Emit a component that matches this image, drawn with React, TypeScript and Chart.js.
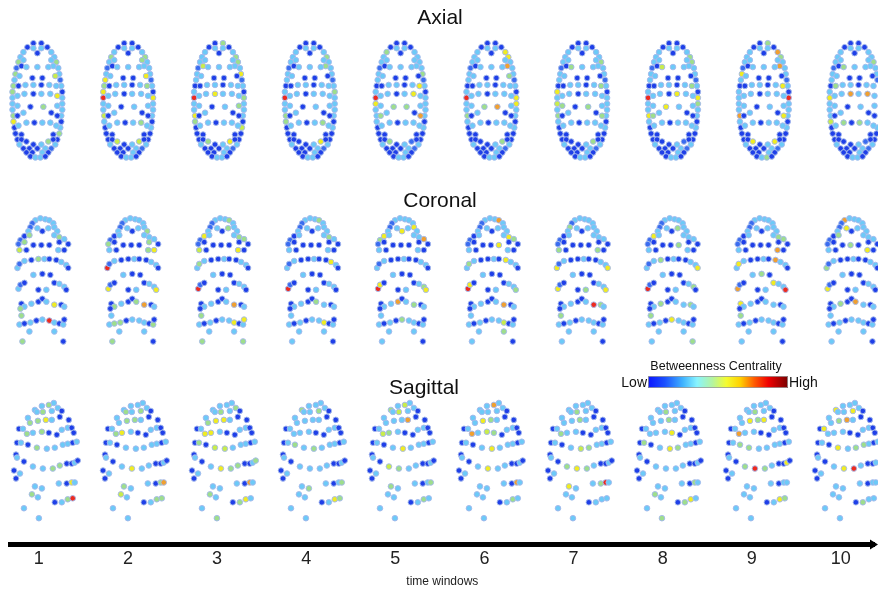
import React, { useEffect, useRef } from "react";
import { Chart, registerables } from "chart.js";

Chart.register(...registerables);

// ---------- text ----------
const WINDOWS = [1, 2, 3, 4, 5, 6, 7, 8, 9, 10];
const TICK_LABELS = ["1", "2", "3", "4", "5", "6", "7", "8", "9", "10"];
const VIEW_TITLES = ["Axial", "Coronal", "Sagittal"];
const AXIS_TITLE = "time windows";
const COLORBAR_TITLE = "Betweenness Centrality";
const COLORBAR_LOW = "Low";
const COLORBAR_HIGH = "High";

// ---------- electrode layouts (layout units, relative to head centre) ----------
const AXIAL_XY = [
  [-4, -57], [4, -57], [-10, -53], [-4, -52], [4, -52], [10, -53], [-14, -48], [0, -47], [14, -48],
  [-17, -43], [-19, -38], [-21, -32], [-22, -26], [-23, -20], [-24, -14], [-25, -8], [-25, -2], [-25, 4],
  [-25, 10], [-24, 16], [-24, 22], [-23, 28], [-22, 34], [-20, 40],
  [17, -43], [19, -38], [21, -32], [22, -26], [23, -20], [24, -14], [25, -8], [25, -2], [25, 4],
  [25, 10], [24, 16], [24, 22], [23, 28], [22, 34], [20, 40],
  [-14, -40], [-16, -34], [-18, -24], [-19, -14], [-20, -4], [-20, 6], [-20, 16], [-19, 26], [-16, 35],
  [14, -40], [16, -34], [18, -24], [19, -14], [20, -4], [20, 6], [20, 16], [19, 26], [16, 35],
  [-11, -33], [0, -33], [11, -33], [-5, -22], [5, -22], [-12, -15], [-4, -15], [4, -15], [12, -15],
  [-13, -6], [-4, -6], [4, -6], [13, -6], [-7, 7], [6, 7], [-14, 13], [14, 13], [-11, 23], [-3, 23],
  [5, 23], [13, 23],
  [-16, 40], [-11, 42], [11, 42], [16, 40], [-18, 45], [18, 45], [-4, 45], [4, 45], [-14, 49], [-8, 49],
  [0, 49], [8, 49], [14, 49], [-11, 53], [-5, 53], [5, 53], [11, 53], [-7, 57], [-2, 58], [3, 58], [8, 57],
];

const CORONAL_XY = [
  [-7, -61], [-2, -63], [3, -62], [7, -61], [-10, -58], [11, -58], [-12, -54], [12, -54], [-5, -53],
  [6, -53], [0, -50], [-14, -50], [15, -50],
  [-22, -41], [-18, -45], [-13, -46], [12, -46], [17, -44], [22, -42], [-24, -37], [26, -37], [-18, -39], [17, -39],
  [-23, -31], [-16, -31], [-9, -36], [-1, -36], [7, -36], [16, -31], [22, -31],
  [-25, -13], [-23, -17], [-18, -20], [-11, -21], [-4, -22], [2, -22], [7, -22], [14, -21], [19, -19],
  [24, -16], [26, -13],
  [-9, -6], [0, -7], [8, -6],
  [-24, 8], [-22, 4], [-18, 2], [12, 2], [17, 3], [22, 6], [24, 9], [-4, 9], [4, 9],
  [-21, 23], [-18, 26], [-11, 23], [-4, 21], [0, 18], [4, 21], [12, 24], [19, 24], [22, 26], [-22, 28],
  [-21, 35], [-23, 44], [-18, 43], [-12, 42], [-6, 40], [0, 39], [7, 40], [12, 42], [17, 43], [21, 44],
  [22, 39], [-13, 51], [12, 51], [-20, 61], [21, 61],
];

const SAGITTAL_XY = [
  [-3, -55], [4, -56], [9, -58], [13, -53], [-10, -51], [-8, -49], [-2, -49], [7, -50], [17, -50],
  [-17, -43], [15, -44], [24, -41], [-15, -38], [-7, -40], [1, -41], [7, -41],
  [-26, -32], [-22, -32], [-18, -27], [-12, -28], [-3, -29], [4, -28], [12, -26], [17, -31], [23, -33],
  [27, -33], [29, -28],
  [-28, -18], [-24, -18], [-17, -16], [-8, -13], [2, -12], [10, -13], [18, -16], [23, -17], [28, -18], [32, -19],
  [-29, -6], [-28, -3], [-21, 1], [-12, 6], [-2, 8], [8, 8], [15, 5], [22, 3], [27, 3], [30, 2], [33, 0],
  [-31, 10], [-25, 13], [-29, 18],
  [-10, 26], [-3, 28], [14, 23], [22, 23], [27, 22], [30, 22],
  [-13, 34], [-7, 37], [10, 42], [17, 42], [23, 39], [28, 38], [-21, 48], [-6, 58],
];

// ---------- centrality levels (0 = low ... 9 = high) ----------
const AXIAL_BASE = [
  0, 0, 0, 2, 2, 0, 2, 0, 2,
  2, 2, 1, 2, 2, 0, 2, 2, 2, 2, 2, 2, 0, 0, 0,
  2, 2, 2, 2, 1, 2, 0, 2, 2, 2, 2, 0, 2, 0, 0,
  2, 0, 2, 0, 2, 2, 0, 2, 0,
  2, 2, 0, 2, 2, 2, 0, 2, 0,
  2, 2, 2, 0, 0, 2, 2, 0, 2, 2, 0, 2, 2, 0, 2, 2, 0, 2, 0, 2, 2,
  0, 0, 1, 0, 2, 2, 0, 2, 0, 0, 0, 2, 1, 0, 0, 2, 0, 0, 2, 2, 0,
];
const CORONAL_BASE = [
  2, 2, 2, 2, 1, 2, 1, 2, 2, 2, 0, 2, 2,
  1, 0, 2, 2, 2, 2, 1, 0, 0, 0,
  2, 0, 0, 0, 0, 2, 0,
  2, 1, 2, 0, 0, 2, 0, 0, 2, 2, 0,
  2, 0, 0,
  2, 1, 0, 0, 2, 2, 0, 0, 2,
  0, 2, 2, 0, 0, 2, 2, 0, 2, 0,
  2, 2, 0, 2, 0, 2, 2, 2, 0, 2, 0,
  2, 2, 2, 0,
];
const SAGITTAL_BASE = [
  2, 2, 2, 2, 2, 2, 2, 2, 0, 2, 0, 0, 2, 2, 2, 2,
  0, 2, 2, 2, 2, 0, 0, 2, 2, 0, 0,
  0, 2, 0, 2, 2, 2, 2, 2, 0, 2,
  0, 2, 0, 2, 2, 2, 2, 0, 0, 2, 0,
  0, 2, 0,
  2, 2, 2, 0, 2, 2,
  2, 2, 0, 2, 2, 2, 2, 2,
];

// per time window: [electrode index, level] for the electrodes that differ from the base
const AXIAL_WINDOWS = [
  [[10, 4], [12, 4], [14, 4], [15, 4], [52, 6], [71, 4], [19, 4], [20, 6], [80, 4], [37, 4], [25, 4], [50, 5]],
  [[16, 8], [13, 6], [15, 6], [31, 6], [50, 6], [19, 5], [9, 4], [48, 4], [24, 4], [14, 4], [51, 4], [77, 4], [80, 5], [79, 5]],
  [[16, 8], [67, 6], [27, 6], [1, 4], [24, 4], [25, 4], [40, 5], [19, 6], [20, 4], [36, 5], [80, 6], [79, 4], [31, 4], [53, 4]],
  [[16, 8], [24, 4], [49, 4], [19, 4], [20, 4], [80, 6], [77, 4], [30, 4]],
  [[16, 8], [69, 6], [54, 7], [6, 4], [27, 4], [51, 6], [70, 4], [71, 4], [45, 4], [17, 6], [79, 4]],
  [[16, 8], [8, 6], [24, 6], [49, 7], [50, 4], [31, 6], [32, 6], [71, 7], [80, 4], [70, 4], [19, 4]],
  [[15, 6], [17, 5], [19, 4], [71, 4], [54, 4], [51, 4], [57, 4], [25, 4], [80, 4], [44, 4]],
  [[16, 8], [68, 6], [57, 5], [19, 6], [70, 6], [24, 4], [25, 4], [51, 4], [31, 6], [32, 4], [45, 4]],
  [[31, 8], [8, 7], [49, 7], [19, 7], [12, 6], [51, 6], [54, 6], [80, 6], [79, 6], [97, 4], [1, 4], [24, 4]],
  [[67, 7], [16, 6], [42, 4], [69, 7], [25, 4], [74, 4], [76, 4], [57, 4], [20, 5]],
];
const CORONAL_WINDOWS = [
  [[69, 8], [59, 6], [17, 4], [23, 5], [63, 4], [76, 4], [15, 4], [21, 4], [62, 4], [34, 4]],
  [[30, 8], [19, 4], [22, 4], [29, 6], [12, 4], [44, 6], [50, 6], [59, 7], [58, 4], [54, 4], [66, 4], [72, 4], [65, 4], [76, 4], [28, 4]],
  [[44, 8], [14, 6], [3, 4], [17, 4], [18, 4], [28, 6], [23, 5], [59, 7], [73, 6], [70, 6], [63, 4], [76, 4], [77, 4], [31, 4], [9, 4]],
  [[44, 8], [38, 6], [70, 6], [58, 4], [17, 4], [3, 4]],
  [[44, 8], [56, 7], [18, 7], [7, 6], [14, 6], [10, 6], [49, 4], [50, 6], [68, 4], [59, 4], [13, 4], [45, 6]],
  [[44, 8], [59, 7], [17, 6], [27, 6], [37, 6], [18, 4], [50, 4], [70, 5], [75, 4], [3, 7], [45, 6], [31, 4]],
  [[59, 8], [6, 4], [23, 4], [28, 4], [40, 6], [30, 6], [44, 6], [52, 4], [50, 6], [60, 4], [63, 4]],
  [[44, 8], [14, 6], [9, 4], [68, 6], [40, 6], [33, 4], [49, 4], [27, 4], [63, 4], [77, 4], [55, 4], [60, 4]],
  [[50, 8], [47, 6], [28, 7], [37, 7], [53, 6], [17, 4], [18, 4], [31, 6], [42, 4], [44, 7], [63, 4]],
  [[0, 7], [8, 6], [58, 7], [44, 6], [28, 6], [26, 4], [15, 4], [30, 4], [55, 4]],
];
const SAGITTAL_WINDOWS = [
  [[62, 8], [1, 4], [6, 4], [12, 4], [13, 4], [14, 6], [18, 4], [20, 4], [30, 4], [42, 4], [43, 4], [55, 6], [57, 4], [61, 4]],
  [[19, 6], [18, 4], [14, 4], [13, 4], [7, 4], [5, 4], [41, 6], [56, 7], [55, 4], [61, 4], [62, 4], [51, 4], [57, 5]],
  [[18, 6], [19, 6], [13, 6], [14, 6], [12, 4], [6, 4], [3, 4], [30, 5], [31, 5], [41, 6], [42, 4], [43, 4], [55, 7], [47, 4], [57, 4], [60, 4], [61, 6], [64, 4], [28, 4]],
  [[29, 4], [31, 4], [52, 4], [61, 6], [62, 4], [56, 4], [7, 4], [4, 4]],
  [[15, 7], [31, 6], [4, 4], [6, 5], [1, 5], [19, 4], [18, 5], [40, 5], [41, 4], [51, 4], [61, 4], [56, 4]],
  [[1, 7], [13, 6], [14, 4], [21, 4], [20, 5], [31, 6], [41, 6], [55, 7], [61, 4], [18, 7]],
  [[55, 8], [54, 4], [51, 6], [41, 6], [42, 4], [40, 4], [18, 4], [31, 5], [32, 4], [14, 4], [6, 4]],
  [[31, 6], [32, 4], [28, 4], [6, 4], [14, 4], [21, 6], [55, 4], [61, 6], [60, 4], [57, 4], [64, 4]],
  [[41, 8], [46, 6], [18, 7], [13, 6], [15, 6], [14, 4], [40, 4], [42, 4], [61, 6], [62, 4], [29, 4], [30, 4], [6, 4]],
  [[14, 7], [42, 8], [41, 6], [30, 6], [32, 4], [7, 6], [17, 6], [13, 4], [4, 6], [33, 4], [60, 4]],
];

// ---------- styling / geometry constants ----------
const FONT = "'Liberation Sans', Arial, Helvetica, sans-serif";
const LEVEL_COLORS = [
  "#1f3fe8", "#3a6cf0", "#6ccaf8", "#8ee6f2", "#9ede8c",
  "#c8ec4c", "#f0ec22", "#f0a030", "#ee2a1e", "#8a0000",
];
const POINT_EDGE = "rgba(165,185,235,0.95)";
const CHART_W = 878;
const CHART_H = 590;
const PAD_LEFT = 10.5;
const PLOT_BOTTOM = 544.5; // y-range of the plot area (pixel-like units)

// px per window and px position of window 1, per row
const ROWS = [
  { id: "xA", pitch: 91.2, first: 37.5, yc: 96.7, xy: AXIAL_XY, base: AXIAL_BASE, win: AXIAL_WINDOWS },
  { id: "xC", pitch: 90.3, first: 42.5, yc: 279, xy: CORONAL_XY, base: CORONAL_BASE, win: CORONAL_WINDOWS },
  { id: "xS", pitch: 89.4, first: 45, yc: 460, xy: SAGITTAL_XY, base: SAGITTAL_BASE, win: SAGITTAL_WINDOWS },
];
const TICK_PITCH = 89.5;
const TICK_FIRST = 39;

function rangeFor(pitch: number, first: number) {
  const w = CHART_W - PAD_LEFT;
  const min = 1 - (first - PAD_LEFT) / pitch;
  return { min, max: min + w / pitch };
}

function buildDatasets() {
  const out: any[] = [];
  ROWS.forEach((row) => {
    WINDOWS.forEach((w, wi) => {
      const levels = row.base.slice();
      row.win[wi].forEach(([i, l]) => {
        levels[i] = l;
      });
      out.push({
        type: "scatter",
        xAxisID: row.id,
        yAxisID: "y",
        data: row.xy.map(([dx, dy]) => ({ x: w + dx / row.pitch, y: row.yc + dy })),
        pointBackgroundColor: levels.map((l) => LEVEL_COLORS[l]),
        pointBorderColor: POINT_EDGE,
        pointBorderWidth: 1,
        pointRadius: 2.8,
        pointHoverRadius: 2.8,
        showLine: false,
        clip: false,
      });
    });
  });
  return out;
}

const decorations = {
  id: "decorations",
  afterDraw(chart: any) {
    const ctx = chart.ctx;
    const xs = chart.scales.x;
    const lineY = xs.top;
    ctx.save();
    // arrow head
    ctx.fillStyle = "#000";
    ctx.beginPath();
    ctx.moveTo(CHART_W, lineY);
    ctx.lineTo(CHART_W - 8, lineY - 5);
    ctx.lineTo(CHART_W - 8, lineY + 5);
    ctx.closePath();
    ctx.fill();

    // view titles
    ctx.fillStyle = "#111";
    ctx.textAlign = "center";
    ctx.textBaseline = "middle";
    ctx.font = `21px ${FONT}`;
    ctx.fillText(VIEW_TITLES[0], 440, 18);
    ctx.fillText(VIEW_TITLES[1], 440, 201);
    ctx.fillText(VIEW_TITLES[2], 424, 388);

    // colour bar
    const bx = 648, by = 376, bw = 140, bh = 12;
    const g = ctx.createLinearGradient(bx, 0, bx + bw, 0);
    g.addColorStop(0.0, "#0a14ff");
    g.addColorStop(0.12, "#1a50ff");
    g.addColorStop(0.25, "#40b4ff");
    g.addColorStop(0.35, "#88f4ff");
    g.addColorStop(0.46, "#b4f4a0");
    g.addColorStop(0.56, "#f4fc30");
    g.addColorStop(0.66, "#ffd000");
    g.addColorStop(0.76, "#ff5a00");
    g.addColorStop(0.86, "#f00000");
    g.addColorStop(1.0, "#780000");
    ctx.fillStyle = g;
    ctx.fillRect(bx, by, bw, bh);
    ctx.strokeStyle = "#9a9a9a";
    ctx.lineWidth = 0.8;
    ctx.strokeRect(bx + 0.5, by + 0.5, bw - 1, bh - 1);

    ctx.fillStyle = "#111";
    ctx.font = `12.5px ${FONT}`;
    ctx.textAlign = "center";
    ctx.fillText(COLORBAR_TITLE, 716, 367);
    ctx.font = `14px ${FONT}`;
    ctx.textAlign = "right";
    ctx.fillText(COLORBAR_LOW, bx - 1, by + bh / 2 + 1);
    ctx.textAlign = "left";
    ctx.fillText(COLORBAR_HIGH, bx + bw + 1, by + bh / 2 + 1);
    ctx.restore();
  },
};

export default function App() {
  const ref = useRef<HTMLCanvasElement | null>(null);

  useEffect(() => {
    if (!ref.current) return;
    const tickRange = rangeFor(TICK_PITCH, TICK_FIRST);
    const scales: any = {
      x: {
        type: "linear",
        axis: "x",
        position: "bottom",
        min: tickRange.min,
        max: tickRange.max,
        grid: { display: false, drawTicks: false },
        border: { display: true, width: 5, color: "#000" },
        afterBuildTicks: (s: any) => {
          s.ticks = WINDOWS.map((v) => ({ value: v }));
        },
        ticks: {
          autoSkip: false,
          maxRotation: 0,
          padding: 4,
          color: "#222",
          font: { size: 18, family: FONT },
          callback: (v: any) => {
            const i = WINDOWS.indexOf(Number(v));
            return i >= 0 ? TICK_LABELS[i] : "";
          },
        },
        title: {
          display: true,
          text: AXIS_TITLE,
          color: "#222",
          font: { size: 12, family: FONT },
          padding: { top: 0, bottom: 1.5 },
        },
      },
      y: { type: "linear", axis: "y", display: false, reverse: true, min: 0, max: PLOT_BOTTOM },
    };
    ROWS.forEach((row) => {
      const r = rangeFor(row.pitch, row.first);
      scales[row.id] = { type: "linear", axis: "x", position: "bottom", display: false, min: r.min, max: r.max };
    });

    const chart = new Chart(ref.current, {
      type: "scatter",
      data: { datasets: buildDatasets() },
      options: {
        animation: false,
        responsive: false,
        events: [],
        layout: { padding: { left: PAD_LEFT, right: 0, top: 0, bottom: 0 } },
        plugins: { legend: { display: false }, tooltip: { enabled: false }, title: { display: false } },
        scales,
      } as any,
      plugins: [decorations],
    });
    return () => chart.destroy();
  }, []);

  return (
    <div style={{ position: "absolute", left: 0, top: 0, width: CHART_W, height: CHART_H, background: "#fff" }}>
      <canvas ref={ref} width={CHART_W} height={CHART_H} style={{ width: CHART_W, height: CHART_H, display: "block" }} />
    </div>
  );
}
